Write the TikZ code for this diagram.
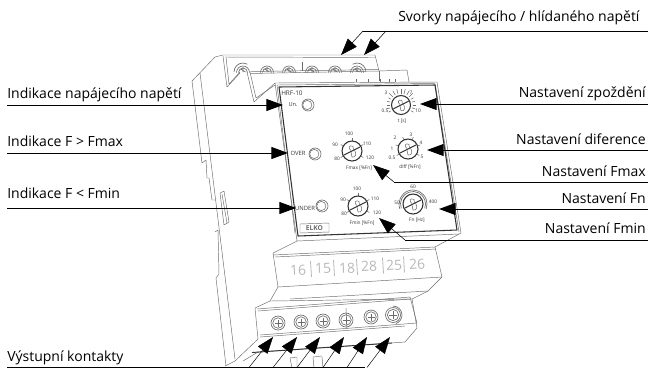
\documentclass[tikz,border=0pt]{standalone}
\usepackage{fontspec}
\usetikzlibrary{arrows.meta}
\setmainfont{Open Sans}
\definecolor{dev}{gray}{0.42}
\definecolor{devd}{gray}{0.2}
\definecolor{numc}{gray}{0.72}
\tikzset{
 x=0.75pt,y=-0.75pt,
 lab/.style={inner sep=0pt,font=\fontsize{10.5pt}{12pt}\selectfont,text=black},
 lead/.style={draw=black,line width=0.75pt},
 leadh/.style={draw=black,line width=0.75pt,-{Triangle[length=12.5pt,width=9pt]}},
 dl/.style={draw=dev,line width=0.35pt,line join=round},
 dk/.style={draw=devd,line width=0.8pt,line join=round},
 small/.style={inner sep=0pt,font=\fontsize{3.6pt}{4pt}\selectfont,text=devd},
 panel/.style={inner sep=0pt,font=\fontsize{4.8pt}{5pt}\selectfont,text=devd},
 num/.style={inner sep=0pt,font=\fontsize{10.5pt}{11pt}\selectfont,text=numc,rotate=3},
}
\newcommand{\mydial}[3]{%
 \begin{scope}[shift={(#1,#2)}]
  \draw[dk,fill=white] (0,0) circle (#3);
  \draw[draw=devd,line width=0.7pt] (-0.8*#3,0.4*#3) -- (0.8*#3,-0.4*#3);
  \draw[dl,line width=0.4pt] (-0.1*#3,-0.05*#3) .. controls (-0.45*#3,-0.25*#3) and (-0.25*#3,-0.7*#3) .. (0.1*#3,-0.45*#3) -- (0.15*#3,-0.1*#3);
  \draw[dl,line width=0.4pt] (-0.1*#3,0.1*#3) -- (0*#3,0.6*#3) .. controls (0.35*#3,0.7*#3) and (0.5*#3,0.3*#3) .. (0.25*#3,-0.1*#3);
 \end{scope}}
\newcommand{\myscrew}[3]{%
 \begin{scope}[shift={(#1,#2)}]
  \draw[dl,line width=0.5pt] (0,0) circle (#3);
  \draw[dl,line width=0.5pt] (0,0) circle (0.75*#3);
  \draw[dl,line width=0.5pt] (-0.5*#3,0) -- (0.5*#3,0) (0,-0.5*#3) -- (0,0.5*#3);
 \end{scope}}
\newcommand{\mytopscrew}[2]{%
 \draw[dl,line width=0.5pt] (#1-6.5,#2+3.5) arc (180:360:6.5);
 \draw[dl,line width=0.5pt] (#1-4.5,#2+3.5) arc (180:360:4.5);
 \draw[dl,line width=0.5pt] (#1-2.5,#2) -- (#1+2.5,#2+3) (#1,#2-2) -- (#1,#2+3);}
\begin{document}
\begin{tikzpicture}
\useasboundingbox (0,0) rectangle (648,369);
% device: left side
\draw[dl] (192,81) -- (215,57) -- (223,55) -- (375,55) -- (379,71);
\draw[dl] (225,57) -- (375,57.5);
\draw[dl] (200,73) -- (223,260) -- (235,359);
\draw[dl] (192,81) -- (202,163) -- (206,160) -- (207,178) -- (209,178) -- (212,200) -- (216,200);
\draw[dl] (220,193) -- (224,191) -- (229,222) -- (224,225) -- cycle;
\draw[dl] (222,194) -- (227,223);
\draw[dl] (215,232) -- (218,230) -- (219,274) -- (216,278) -- (226,366);
% upper tiers
\draw[dl] (223,56) -- (227,87) -- (240,73);
\draw[dl] (226,57) -- (229,84) -- (240,72);
\draw[dl] (247,72) -- (254,102) -- (275,83);
\draw[dl] (250,72) -- (256,98) -- (275,85);
\draw[dl] (250,73.5) -- (379,71) -- (407,70) -- (409,82);
\draw[dl] (250,71.5) -- (379,69.5);
\draw[dl] (379,71) -- (379,81);
\draw[dl] (302,62) -- (302,71);
\foreach \mx in {356,368,380,389,395}{\draw[dl,line width=0.5pt] (\mx,79) -- (\mx,81.5);}
\mytopscrew{243}{69}\mytopscrew{267}{69}\mytopscrew{289}{69}\mytopscrew{312}{69}\mytopscrew{335}{69}\mytopscrew{357}{69}
\draw[dl,line width=0.5pt] (234,72) arc (180:300:9);
\draw[dl,line width=0.5pt] (366,72) arc (0:-120:9);
% panel
\draw[dl] (275,83) -- (437,82) -- (461,233) -- (435,247);
\draw[dl] (277,85) -- (435,83.5) -- (459,232);
\draw[dl] (275,83) -- (297,241) -- (459,234);
\draw[dl] (277,85) -- (295,233);
\draw[dk] (279,87) -- (435,85) -- (457,230) -- (298,236) -- cycle;
% number strip
\draw[dl] (297,241) -- (273,253) -- (278,287) -- (442,277) -- (435,247) -- (273,255);
\draw[dl] (275,257) -- (436,249);
\draw[dl] (278,287) -- (270,301);
\draw[dl] (442,277) -- (428,291) -- (290,299);
\draw[dl] (428,291) -- (412,299) -- (270,301) -- (255,308) -- (258,339) -- (235,361) -- (225,366);
% lower terminals
\draw[dl] (257,309) -- (410,297) -- (417,323) -- (260,335);
\draw[dl] (258,311) -- (410,299);
\draw[dl] (346,308) -- (347,329);
\draw[dl] (417,328) -- (405,342) -- (258,352) -- (243,361);
\draw[dl] (412,299) -- (417,328);
\draw[dk,line width=0.7pt] (252,352.5) -- (392,343);
\draw[dl] (260,337) -- (405,326);
\draw[dl] (290,358) -- (292,368) (297,357) -- (297,368) (313,357) -- (314,368) (322,357) -- (323,368);
\draw[dl] (290,358) -- (297,357) (313,357) -- (322,356);
\myscrew{278}{323}{7}\myscrew{301}{322}{7}\myscrew{323}{321}{7}\myscrew{346}{320}{7}\myscrew{371}{317}{7}\myscrew{393}{315}{7.5}
\draw[dl,line width=0.5pt] (393,306) arc (-90:70:9);
% strip numbers
\node[num] (n1) at (298,270) {16};
\node[num] (n2) at (323,268.5) {15};
\node[num] (n3) at (347,268) {18};
\node[num] (n4) at (369,266.5) {28};
\node[num] (n5) at (394,265.5) {25};
\node[num] (n6) at (417,264) {26};
\foreach \sx/\sy in {311/269,334/268,357/267,383/265.5,404/264.5}{\draw[draw=numc,line width=0.6pt] (\sx-0.5,\sy-8) -- (\sx+0.5,\sy+8);}
% panel labels
\node[panel,anchor=west] (hrf) at (281,93) {HRF-10};
\node[small,font=\fontsize{4.2pt}{5pt}\selectfont] (un) at (293,105) {Un.};
\node[small,font=\fontsize{4.4pt}{5pt}\selectfont] (over) at (298,153) {OVER};
\node[small,font=\fontsize{4.4pt}{5pt}\selectfont] (under) at (305,208) {UNDER};
\foreach \lx/\ly in {308/105,315/154,322/206}{
 \draw[dl,line width=0.5pt] (\lx,\ly) circle (6);
 \draw[dl,line width=0.4pt] (\lx-0.7,\ly) circle (4.6);
}
\draw[dl] (300,224) -- (329,223) -- (329,232) -- (300,233) -- cycle;
\node[panel,text=dev,font=\fontsize{5pt}{5pt}\selectfont\bfseries] (logo) at (314.5,228) {ELKO};
% dials
\foreach \a in {150,165,...,390}{\draw[dl,line width=0.4pt] (401,105) ++(\a:11.5) -- ++(\a:{3+(abs(\a-270)<60?2:0)});}
\draw[dl,line width=0.5pt] (413,204) ++(160:12.5) arc (160:380:12.5);
\draw[dl,line width=0.5pt] (413,204) ++(160:14) arc (160:380:14);
\foreach \a/\cx/\cy in {30/352/151,330/352/151,270/352/151,210/352/151,150/352/151,30/358/206,330/358/206,270/358/206,210/358/206,150/358/206,30/408/149,342/408/149,294/408/149,246/408/149,198/408/149,150/408/149}{
 \draw[dl,line width=0.4pt] (\cx,\cy) ++(\a:10.5) -- ++(\a:2.5);}
\mydial{401}{105}{9.5}
\mydial{408}{149}{10}
\mydial{352}{151}{10}
\mydial{358}{206}{10}
\mydial{413}{204}{10}
\node[small] (l1) at (385,111) {0.5};
\node[small] (l2) at (386,93) {3};
\node[small] (l3) at (411,93) {7};
\node[small] (l4) at (418,111) {10};
\node[small] (l5) at (402,121) {t [s]};
\node[small] (l6) at (395,138) {2};
\node[small] (l7) at (411,135) {3};
\node[small] (l8) at (421,143) {4};
\node[small] (l9) at (422,157) {5};
\node[small] (l10) at (392,149) {1};
\node[small] (l11) at (392,158) {0.5};
\node[small] (l12) at (410,167) {dIff [\%Fn]};
\node[small] (l13) at (349,134) {100};
\node[small] (l14) at (335,145) {90};
\node[small] (l15) at (337,159) {80};
\node[small] (l16) at (367,144) {110};
\node[small] (l17) at (370,158) {120};
\node[small] (l18) at (359,168) {Fmax [\%Fn]};
\node[small] (l19) at (357,189) {100};
\node[small] (l20) at (343,200) {90};
\node[small] (l21) at (344,214) {80};
\node[small] (l22) at (375,199) {110};
\node[small] (l23) at (377,213) {120};
\node[small] (l24) at (362,223) {Fmin [\%Fn]};
\node[small] (l25) at (413,187) {60};
\node[small] (l26) at (397,203) {50};
\node[small] (l27) at (433,202) {400};
\node[small] (l28) at (417,220) {Fn [Hz]};
% labels
\node[lab,anchor=base west] (t1) at (398,21.5) {Svorky napájecího / hlídaného napětí};
\node[lab,anchor=base west] (t2) at (7,98) {Indikace napájecího napětí};
\node[lab,anchor=base west] (t3) at (7,146.5) {Indikace F > Fmax};
\node[lab,anchor=base west] (t4) at (7,198.5) {Indikace F < Fmin};
\node[lab,anchor=base west] (t5) at (7,361) {Výstupní kontakty};
\node[lab,anchor=base east] (t6) at (646,97.5) {Nastavení zpoždění};
\node[lab,anchor=base east] (t7) at (646,144) {Nastavení diference};
\node[lab,anchor=base east] (t8) at (646,176) {Nastavení Fmax};
\node[lab,anchor=base east] (t9) at (646,203) {Nastavení Fn};
\node[lab,anchor=base east] (t10) at (646,233) {Nastavení Fmin};
% leaders
\coordinate (a) at (648,31);
\coordinate (b) at (386,31);
\coordinate (c) at (363,31);
\coordinate (d) at (341,55);
\coordinate (e) at (364,55);
\draw[lead] (a) -- (c);
\draw[leadh,line width=0.4pt] (c) -- (d);
\draw[leadh,line width=0.4pt] (b) -- (e);
\coordinate (f1) at (7,105); \coordinate (f2) at (283,105); \draw[leadh] (f1) -- (f2);
\coordinate (g1) at (7,153); \coordinate (g2) at (288,153); \draw[leadh] (g1) -- (g2);
\coordinate (h1) at (7,208); \coordinate (h2) at (296,208); \draw[leadh] (h1) -- (h2);
\coordinate (i1) at (648,104); \coordinate (i2) at (420,104); \draw[leadh] (i1) -- (i2);
\coordinate (j1) at (648,150); \coordinate (j2) at (427,150); \draw[leadh] (j1) -- (j2);
\coordinate (k1) at (648,182); \coordinate (k2) at (394,182); \coordinate (k3) at (373,165);
\draw[lead] (k1) -- (k2); \draw[leadh,line width=0.4pt] (k2) -- (k3);
\coordinate (m1) at (648,209); \coordinate (m2) at (439,209); \draw[leadh] (m1) -- (m2);
\coordinate (o1) at (648,240); \coordinate (o2) at (405,240); \coordinate (o3) at (379,218);
\draw[lead] (o1) -- (o2); \draw[leadh,line width=0.4pt] (o2) -- (o3);
\coordinate (p1) at (7,367.5); \coordinate (p2) at (365,367.5);
\draw[lead] (p1) -- (p2);
\foreach \sx/\tx [count=\i] in {249/273,273/297,297/320,323/344,347/367,367/390}{
 \coordinate (q\i) at (\sx,367.5); \coordinate (r\i) at (\tx,337);
 \draw[leadh,line width=0.35pt] (q\i) -- (r\i);}
\end{tikzpicture}
\end{document}
